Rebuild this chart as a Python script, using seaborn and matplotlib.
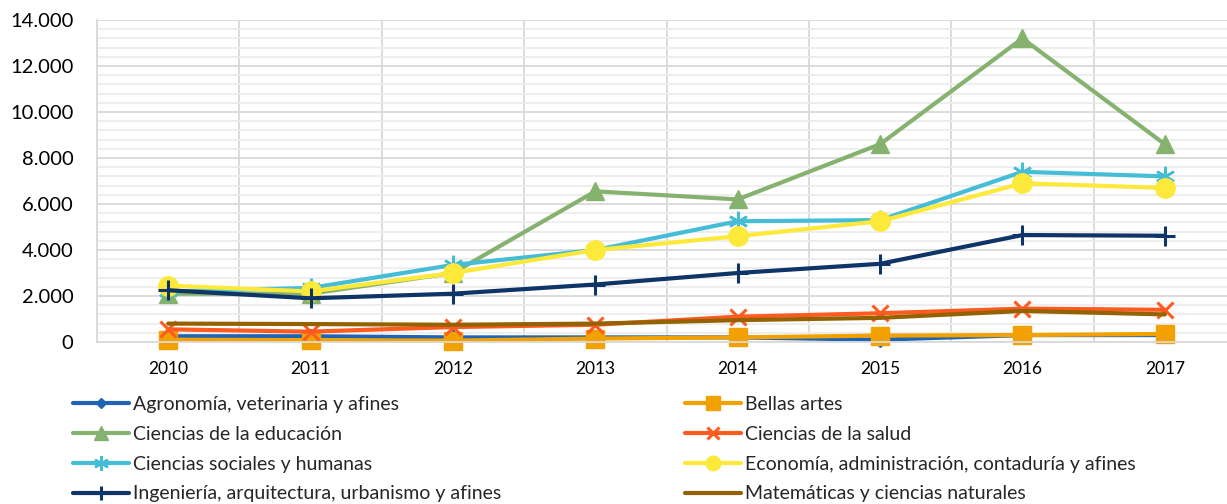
import numpy as np
import pandas as pd
import matplotlib
matplotlib.use("Agg")
import matplotlib.pyplot as plt
import seaborn as sns
from matplotlib.lines import Line2D
from matplotlib.ticker import MultipleLocator, FuncFormatter

years = ["2010", "2011", "2012", "2013", "2014", "2015", "2016", "2017"]

agronomia = [250, 250, 200, 200, 200, 100, 300, 300]
bellas_artes = [100, 80, 60, 150, 200, 280, 300, 350]
educacion = [2100, 2100, 3000, 6550, 6200, 8600, 13200, 8600]
salud = [550, 450, 650, 750, 1100, 1250, 1450, 1400]
sociales = [2200, 2350, 3350, 4000, 5250, 5300, 7400, 7200]
economia = [2450, 2200, 3000, 4000, 4600, 5250, 6900, 6700]
ingenieria = [2250, 1900, 2100, 2500, 3000, 3400, 4650, 4620]
matematicas = [800, 780, 750, 800, 950, 1050, 1350, 1200]

names = [
    "Agronomía, veterinaria y afines",
    "Bellas artes",
    "Ciencias de la educación",
    "Ciencias de la salud",
    "Ciencias sociales y humanas",
    "Economía, administración, contaduría y afines",
    "Ingeniería, arquitectura, urbanismo y afines",
    "Matemáticas y ciencias naturales",
]
series = [agronomia, bellas_artes, educacion, salud, sociales, economia, ingenieria, matematicas]
colors = ["#1F64B4", "#F2A100", "#86B26F", "#FF5A1F", "#45BDD6", "#FDE93A", "#0E3468", "#946200"]
markers = ["D", "s", "^", "x", (6, 2, 0), "o", "+", "_"]
msizes = [7, 13, 13, 12, 14, 14, 14, 1]
mews = [1, 1, 1, 2.2, 1.8, 1, 2.2, 1]

sns.set_theme(style="white")
plt.rcParams["font.family"] = ["Lato", "DejaVu Sans"]

fig = plt.figure(figsize=(12.27, 5.04), dpi=100)
ax = fig.add_axes([97 / 1227, 1 - 342 / 504, (1236 - 97) / 1227, (342 - 20) / 504])

x = np.arange(len(years))
for name, vals, c, m, ms, mew in zip(names, series, colors, markers, msizes, mews):
    df = pd.DataFrame({"x": x, "y": vals})
    sns.lineplot(data=df, x="x", y="y", ax=ax, color=c, linewidth=3, marker=m,
                 markersize=ms, markeredgecolor=c, markeredgewidth=mew, clip_on=False,
                 legend=False)

ax.set_xlim(-0.5, 7.5)
ax.set_ylim(0, 14000)
ax.yaxis.set_major_locator(MultipleLocator(2000))
ax.yaxis.set_minor_locator(MultipleLocator(400))
ax.yaxis.set_major_formatter(FuncFormatter(lambda v, p: f"{int(v):,}".replace(",", ".")))
ax.set_xticks(x)
ax.set_xticklabels(years)
ax.set_xticks(np.arange(-0.5, 8, 1), minor=True)
ax.grid(which="major", axis="y", color="#D9D9D9", linewidth=1.3)
ax.grid(which="minor", axis="y", color="#EDEDED", linewidth=1.3)
ax.grid(which="minor", axis="x", color="#D9D9D9", linewidth=1.3)
ax.grid(which="major", axis="x", visible=False)
ax.set_axisbelow(True)
for s in ["top", "right"]:
    ax.spines[s].set_visible(False)
ax.spines["left"].set_color("#D9D9D9")
ax.spines["bottom"].set_color("#D9D9D9")
ax.spines["left"].set_linewidth(1.3)
ax.spines["bottom"].set_linewidth(1.3)
ax.tick_params(axis="y", which="both", length=0, pad=17, labelsize=14.5, labelcolor="#000000")
ax.tick_params(axis="x", which="both", length=0, pad=14, labelsize=12.5, labelcolor="#000000")
ax.set_xlabel("")
ax.set_ylabel("")

def handle(i):
    return Line2D([], [], color=colors[i], linewidth=3, marker=markers[i],
                  markersize=msizes[i] * 0.75, markeredgecolor=colors[i], markeredgewidth=mews[i])

left_idx = [0, 2, 4, 6]
right_idx = [1, 3, 5, 7]
kw = dict(loc="upper left", frameon=False, fontsize=14, handlelength=2.9, handletextpad=0.2,
          labelspacing=0.66, borderpad=0, borderaxespad=0)
leg1 = fig.legend([handle(i) for i in left_idx], [names[i] for i in left_idx],
                  bbox_to_anchor=(73 / 1227, 1 - 396 / 504), **kw)
leg2 = fig.legend([handle(i) for i in right_idx], [names[i] for i in right_idx],
                  bbox_to_anchor=(685 / 1227, 1 - 396 / 504), **kw)

fig.savefig("out.png", dpi=100)
